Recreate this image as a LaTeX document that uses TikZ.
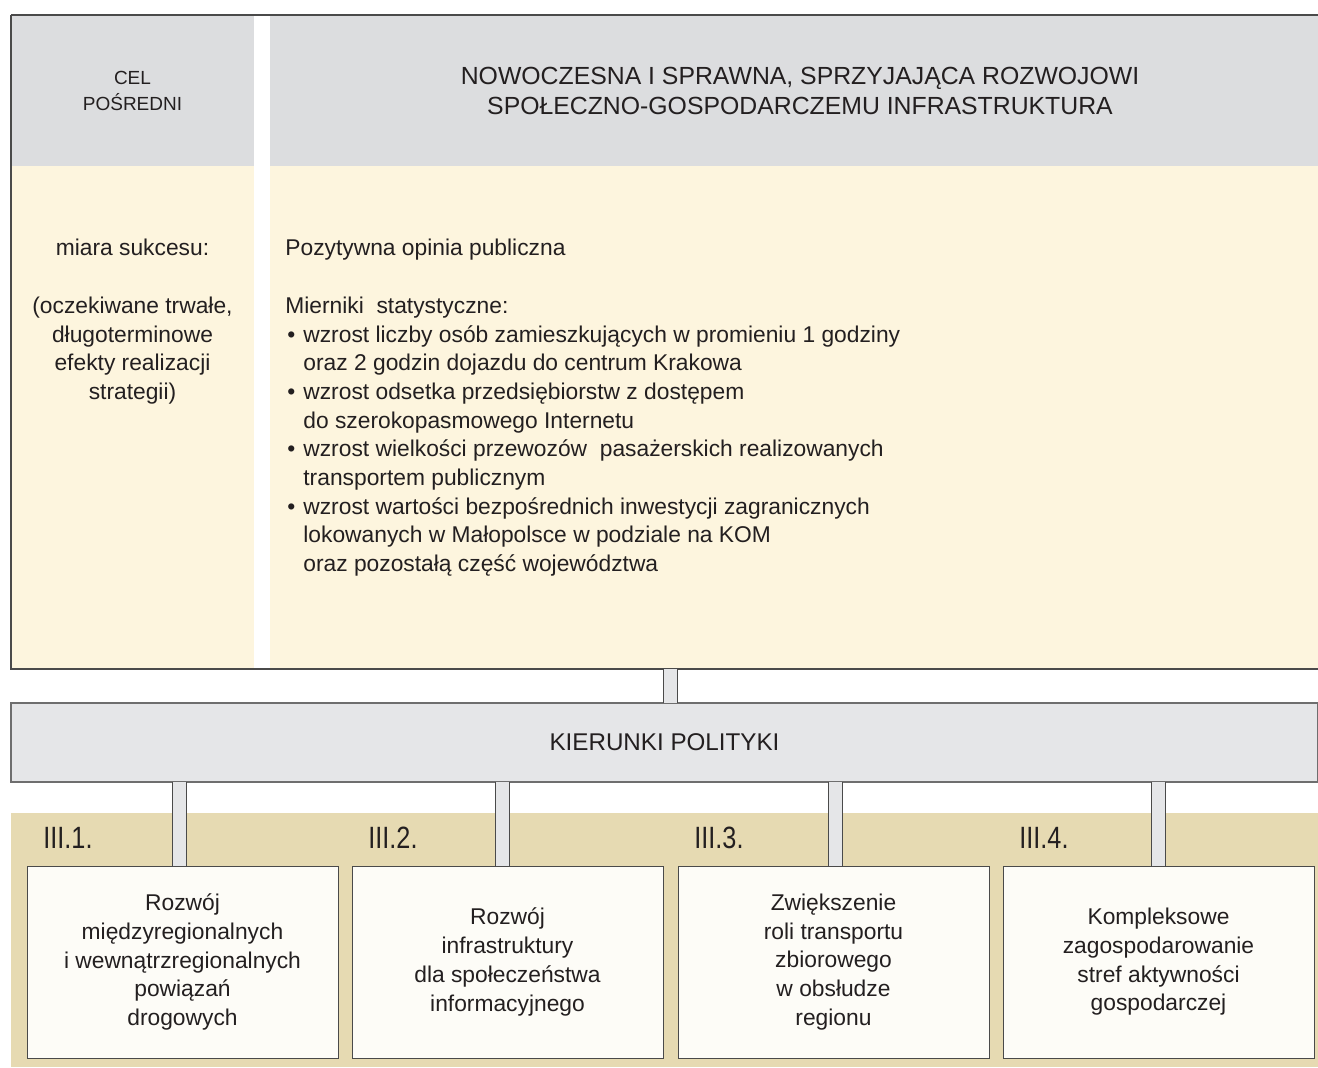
\documentclass[tikz,border=0pt]{standalone}
\usepackage{fontspec}
\setmainfont{Liberation Sans}
\newfontfamily\condfont[FakeStretch=0.82]{Liberation Sans}
\usetikzlibrary{positioning}
\definecolor{szary}{HTML}{DCDDDF}
\definecolor{jasnoszary}{HTML}{E5E6E8}
\definecolor{kremowy}{HTML}{FDF5DE}
\definecolor{piaskowy}{HTML}{E6DAB2}
\definecolor{bialy}{HTML}{FDFCF7}
\definecolor{ramka}{HTML}{4A4A4A}
\definecolor{tekst}{HTML}{231F20}
\newcommand{\pkt}{\makebox[9pt][l]{\hspace{1pt}\textbullet}}
\newcommand{\wcz}{\hspace*{9pt}}
\tikzstyle{pole} = [rectangle, anchor=north west, inner sep=0pt, outer sep=0pt, text=tekst]
\tikzstyle{naglowek} = [pole, fill=szary, align=center, minimum height=75.5pt]
\tikzstyle{tlo} = [pole, fill=kremowy, minimum height=251.5pt]
\tikzstyle{kierunek} = [pole, fill=bialy, draw=ramka, line width=0.5pt, minimum width=155.5pt, minimum height=96pt, align=center, font=\fontsize{11.4}{14.35}\selectfont]
\tikzstyle{etykieta} = [inner sep=0pt, anchor=base west, text=tekst, font=\condfont\fontsize{15.4}{18}\selectfont]
\tikzstyle{opis} = [inner sep=0pt, text=tekst, font=\fontsize{11.4}{14.35}\selectfont]
\tikzstyle{lacznik} = [draw=ramka, line width=0.5pt, double=jasnoszary, double distance=6.5pt]

\begin{document}
\begin{tikzpicture}[x=0.5pt, y=-0.5pt]
  \useasboundingbox (0,0) rectangle (1318,1067);

  % gorny panel
  \node[naglowek, minimum width=121.5pt, font=\fontsize{9.5}{13}\selectfont] (cel) at (11,15) {CEL\\POŚREDNI};
  \node[naglowek, minimum width=524pt, font=\fontsize{12.4}{15}\selectfont] (tytul) at (270,15) {\hspace*{6pt}NOWOCZESNA I SPRAWNA, SPRZYJAJĄCA ROZWOJOWI\\\hspace*{6pt}SPOŁECZNO-GOSPODARCZEMU INFRASTRUKTURA};
  \node[tlo, minimum width=121.5pt] (miara) at (11,166) {};
  \node[tlo, minimum width=524pt] (mierniki) at (270,166) {};
  \draw[ramka, line width=0.6pt] (cel.north west) -- (tytul.north east);
  \draw[ramka, line width=0.6pt] (cel.north west) -- (miara.south west) -- (mierniki.south east);

  \node[opis, anchor=north, align=center] (miaratxt) at ([shift={(0,73)}]miara.north)
    {miara sukcesu:\\[14.35pt](oczekiwane trwałe,\\długoterminowe\\efekty realizacji\\strategii)};
  \node[opis, anchor=north west, align=left] (miernikitxt) at ([shift={(15,73)}]mierniki.north west)
    {Pozytywna opinia publiczna\\[14.35pt]
     Mierniki\ \ statystyczne:\\
     \pkt wzrost liczby osób zamieszkujących w promieniu 1 godziny\\
     \wcz oraz 2 godzin dojazdu do centrum Krakowa\\
     \pkt wzrost odsetka przedsiębiorstw z dostępem\\
     \wcz do szerokopasmowego Internetu\\
     \pkt wzrost wielkości przewozów\ \ pasażerskich realizowanych\\
     \wcz transportem publicznym\\
     \pkt wzrost wartości bezpośrednich inwestycji zagranicznych\\
     \wcz lokowanych w Małopolsce w podziale na KOM\\
     \wcz oraz pozostałą część województwa};

  % kierunki polityki
  \node[pole, fill=jasnoszary, draw=ramka!80, line width=0.6pt, minimum width=653.5pt, minimum height=39.5pt, font=\fontsize{12.1}{15}\selectfont] (kier) at (11,703) {KIERUNKI POLITYKI};
  \node[pole, fill=piaskowy, minimum width=653.5pt, minimum height=127pt] (pas) at (11,813) {};

  \node[kierunek] (kier1) at (27,866) {Rozwój\\międzyregionalnych\\i wewnątrzregionalnych\\powiązań\\drogowych};
  \node[kierunek] (kier2) at (352,866) {Rozwój\\infrastruktury\\dla społeczeństwa\\informacyjnego};
  \node[kierunek] (kier3) at (678,866) {Zwiększenie\\roli transportu\\zbiorowego\\w obsłudze\\regionu};
  \node[kierunek] (kier4) at (1003,866) {Kompleksowe\\zagospodarowanie\\stref aktywności\\gospodarczej};

  \node[etykieta] (et1) at ([shift={(16,-18)}]kier1.north west) {III.1.};
  \node[etykieta] (et2) at ([shift={(16,-18)}]kier2.north west) {III.2.};
  \node[etykieta] (et3) at ([shift={(16,-18)}]kier3.north west) {III.3.};
  \node[etykieta] (et4) at ([shift={(16,-18)}]kier4.north west) {III.4.};

  % laczniki
  \draw[lacznik] ([xshift=3pt]kier.north) -- ([xshift=3pt]kier.north |- miara.south);
  \draw[lacznik] ([xshift=-1.5pt]kier1.north) -- ([xshift=-1.5pt]kier1.north |- kier.south);
  \draw[lacznik] ([xshift=-2.5pt]kier2.north) -- ([xshift=-2.5pt]kier2.north |- kier.south);
  \draw[lacznik] ([xshift=1pt]kier3.north) -- ([xshift=1pt]kier3.north |- kier.south);
  \draw[lacznik] (kier4.north) -- (kier4.north |- kier.south);
\end{tikzpicture}
\end{document}
